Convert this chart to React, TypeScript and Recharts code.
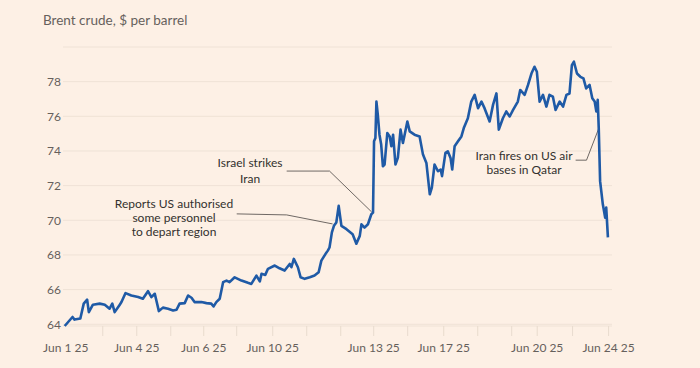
import { LineChart, Line, XAxis, YAxis, CartesianGrid, ReferenceLine } from "recharts";

// trading-day index since Sunday Jun 1 open (one unit ~ one session)
const T = [
  0, 0.23, 0.29, 0.46, 0.56, 0.66, 0.71, 0.83, 1.03, 1.18, 1.32, 1.4, 1.47, 1.62, 1.67, 1.79, 1.96,
  2.16, 2.3, 2.45, 2.55, 2.65, 2.77, 2.89, 3.04, 3.19, 3.29, 3.38, 3.53, 3.63, 3.73, 3.82, 4.02,
  4.17, 4.31, 4.38, 4.46, 4.56, 4.66, 4.76, 4.85, 5.0, 5.2, 5.39, 5.49, 5.64, 5.74, 5.79, 5.9, 5.98,
  6.18, 6.32, 6.47, 6.62, 6.67, 6.74, 6.86, 6.94, 7.06, 7.21, 7.35, 7.47, 7.55, 7.67, 7.74, 7.79,
  7.86, 7.92, 7.99, 8.06, 8.14, 8.29, 8.47, 8.58, 8.68, 8.73, 8.82, 8.92, 9.02, 9.07, 9.1, 9.14,
  9.17, 9.21, 9.26, 9.31, 9.36, 9.41, 9.49, 9.56, 9.61, 9.66, 9.73, 9.8, 9.88, 9.95, 10.08, 10.15,
  10.29, 10.44, 10.54, 10.64, 10.74, 10.8, 10.88, 10.98, 11.06, 11.1, 11.2, 11.27, 11.35, 11.4,
  11.47, 11.57, 11.67, 11.74, 11.86, 11.96, 12.06, 12.16, 12.26, 12.35, 12.5, 12.6, 12.7, 12.77,
  12.89, 12.99, 13.09, 13.19, 13.33, 13.4, 13.53, 13.63, 13.73, 13.82, 13.89, 13.97, 14.07, 14.17,
  14.26, 14.36, 14.44, 14.56, 14.66, 14.76, 14.85, 14.92, 14.98, 15.07, 15.17, 15.26, 15.34, 15.44,
  15.52, 15.59, 15.64, 15.68, 15.71, 15.75, 15.83, 15.9, 15.93, 15.98,
];

const BRENT = [
  63.9, 64.42, 64.27, 64.33, 65.19, 65.42, 64.7, 65.13, 65.19, 65.13, 64.9, 65.19, 64.7, 65.13, 65.28, 65.8, 65.66,
  65.57, 65.47, 65.91, 65.57, 65.76, 64.76, 64.96, 64.9, 64.8, 64.84, 65.19, 65.22, 65.66, 65.53, 65.28, 65.28,
  65.22, 65.19, 65.03, 65.28, 65.47, 66.43, 66.52, 66.43, 66.71, 66.52, 66.39, 66.33, 66.81, 66.47, 66.91, 66.85, 67.2,
  67.39, 67.23, 67.1, 67.48, 67.29, 67.77, 67.29, 66.71, 66.62, 66.71, 66.81, 67.0, 67.67, 68.05, 68.25, 68.43,
  69.3, 69.68, 69.87, 70.83, 69.68, 69.49, 69.2, 68.65, 69.1, 69.77, 69.58, 69.77, 70.35, 70.44, 74.56, 74.75,
  76.85, 76.09, 74.94, 74.37, 73.12, 73.22, 75.03, 74.84, 74.27, 74.94, 73.22, 73.6, 75.23, 74.46, 75.7, 75.13,
  74.94, 74.84, 73.79, 73.31, 71.5, 71.88, 73.22, 72.83, 72.93, 72.55, 73.89, 73.98, 73.6, 72.93,
  74.27, 74.56, 74.84, 75.32, 75.89, 76.85, 77.24, 76.47, 76.85, 76.47, 75.7, 76.66, 77.32, 75.23,
  75.89, 76.28, 75.99, 76.37, 76.85, 77.52, 77.24, 77.81, 78.47, 78.86, 78.57, 76.85, 77.24, 76.56,
  77.24, 77.14, 76.37, 76.85, 76.56, 77.24, 77.32, 78.95, 79.15, 78.47, 78.28, 78.19, 77.61, 77.81,
  77.04, 76.85, 76.28, 76.95, 75.32, 72.26, 70.92, 70.15, 70.73, 69.01,
];

const Y_TICKS = [64, 66, 68, 70, 72, 74, 76, 78];

// small tick marks at each session boundary
const TICK_MARKS = [1.12, 2.12, 3.12, 4.09, 5.06, 6.12, 7.12, 8.12, 9.09, 10.09, 11.15, 12.15, 13.15, 13.9, 14.94, 16];
const LABEL_AT = [0.03, 2.12, 4.09, 6.12, 9.09, 11.15, 13.9, 16];
const LABELS = ["Jun 1 25", "Jun 4 25", "Jun 6 25", "Jun 10 25", "Jun 13 25", "Jun 17 25", "Jun 20 25", "Jun 24 25"];

const data = T.map((t, i) => ({ t, price: BRENT[i] }));
const xTicks = Array.from(new Set([...LABEL_AT, ...TICK_MARKS])).sort((a, b) => a - b);

const BG = "#fdf0e5";
const FONT = "Lato, 'Noto Sans', sans-serif";
const MUTED = "#66605c";
const INK = "#33302e";
const LEADER = "#4a4542";

function XTick({ x, y, payload }: { x?: number; y?: number; payload?: { value: number } }) {
  const v = payload?.value ?? 0;
  const li = LABEL_AT.indexOf(v);
  const mark = TICK_MARKS.includes(v);
  return (
    <g>
      {mark && <line x1={x} x2={x} y1={y} y2={(y ?? 0) + 10} stroke="#e8dbce" strokeWidth={1} />}
      {li >= 0 && (
        <text x={x} y={(y ?? 0) + 26} textAnchor="middle" fill={MUTED} fontSize={12} fontFamily={FONT}>
          {LABELS[li]}
        </text>
      )}
    </g>
  );
}

export default function App() {
  return (
    <div style={{ position: "absolute", left: 0, top: 0, width: 700, height: 368, background: BG, fontFamily: FONT }}>
      <div style={{ position: "absolute", left: 43, top: 12, fontSize: 13.5, color: MUTED }}>Brent crude, $ per barrel</div>
      <LineChart width={700} height={368} data={data} margin={{ top: 47, right: 88, left: 0, bottom: 12 }}>
        <CartesianGrid vertical={false} stroke="#efe2d6" strokeWidth={1} />
        <XAxis
          dataKey="t"
          type="number"
          domain={[-0.05, 16.1]}
          ticks={xTicks}
          interval={0}
          tick={<XTick />}
          tickLine={false}
          axisLine={false}
          tickSize={0}
          tickMargin={0}
          height={30}
        />
        <YAxis
          type="number"
          domain={[64, 80]}
          ticks={Y_TICKS}
          width={63}
          axisLine={false}
          tickLine={false}
          tickSize={0}
          tickMargin={2}
          tick={{ fill: MUTED, fontSize: 12, fontFamily: FONT }}
        />
        {/* leader lines for annotations */}
        <ReferenceLine segment={[{ x: 6.53, y: 72.84 }, { x: 7.79, y: 72.84 }]} stroke={LEADER} strokeWidth={0.8} ifOverflow="visible" />
        <ReferenceLine segment={[{ x: 7.79, y: 72.84 }, { x: 9.03, y: 70.48 }]} stroke={LEADER} strokeWidth={0.8} ifOverflow="visible" />
        <ReferenceLine segment={[{ x: 5.06, y: 70.37 }, { x: 6.53, y: 70.31 }]} stroke={LEADER} strokeWidth={0.8} ifOverflow="visible" />
        <ReferenceLine segment={[{ x: 6.53, y: 70.31 }, { x: 7.88, y: 69.79 }]} stroke={LEADER} strokeWidth={0.8} ifOverflow="visible" />
        <ReferenceLine segment={[{ x: 15.03, y: 73.47 }, { x: 15.35, y: 73.47 }]} stroke={LEADER} strokeWidth={0.8} ifOverflow="visible" />
        <ReferenceLine segment={[{ x: 15.35, y: 73.47 }, { x: 15.71, y: 75.3 }]} stroke={LEADER} strokeWidth={0.8} ifOverflow="visible" />
        <Line
          dataKey="price"
          type="linear"
          stroke="#1f5aa6"
          strokeWidth={2.6}
          strokeLinejoin="round"
          dot={false}
          isAnimationActive={false}
        />
      </LineChart>
      <svg width={700} height={368} style={{ position: "absolute", left: 0, top: 0, pointerEvents: "none" }}>
        <g fill={INK} fontSize={12} fontFamily={FONT} textAnchor="middle">
          <text x={250} y={167}>Israel strikes</text>
          <text x={250} y={183}>Iran</text>
          <text x={174} y={208}>Reports US authorised</text>
          <text x={174} y={222}>some personnel</text>
          <text x={174} y={236}>to depart region</text>
          <text x={524} y={160}>Iran fires on US air</text>
          <text x={524} y={174}>bases in Qatar</text>
        </g>
      </svg>
    </div>
  );
}
